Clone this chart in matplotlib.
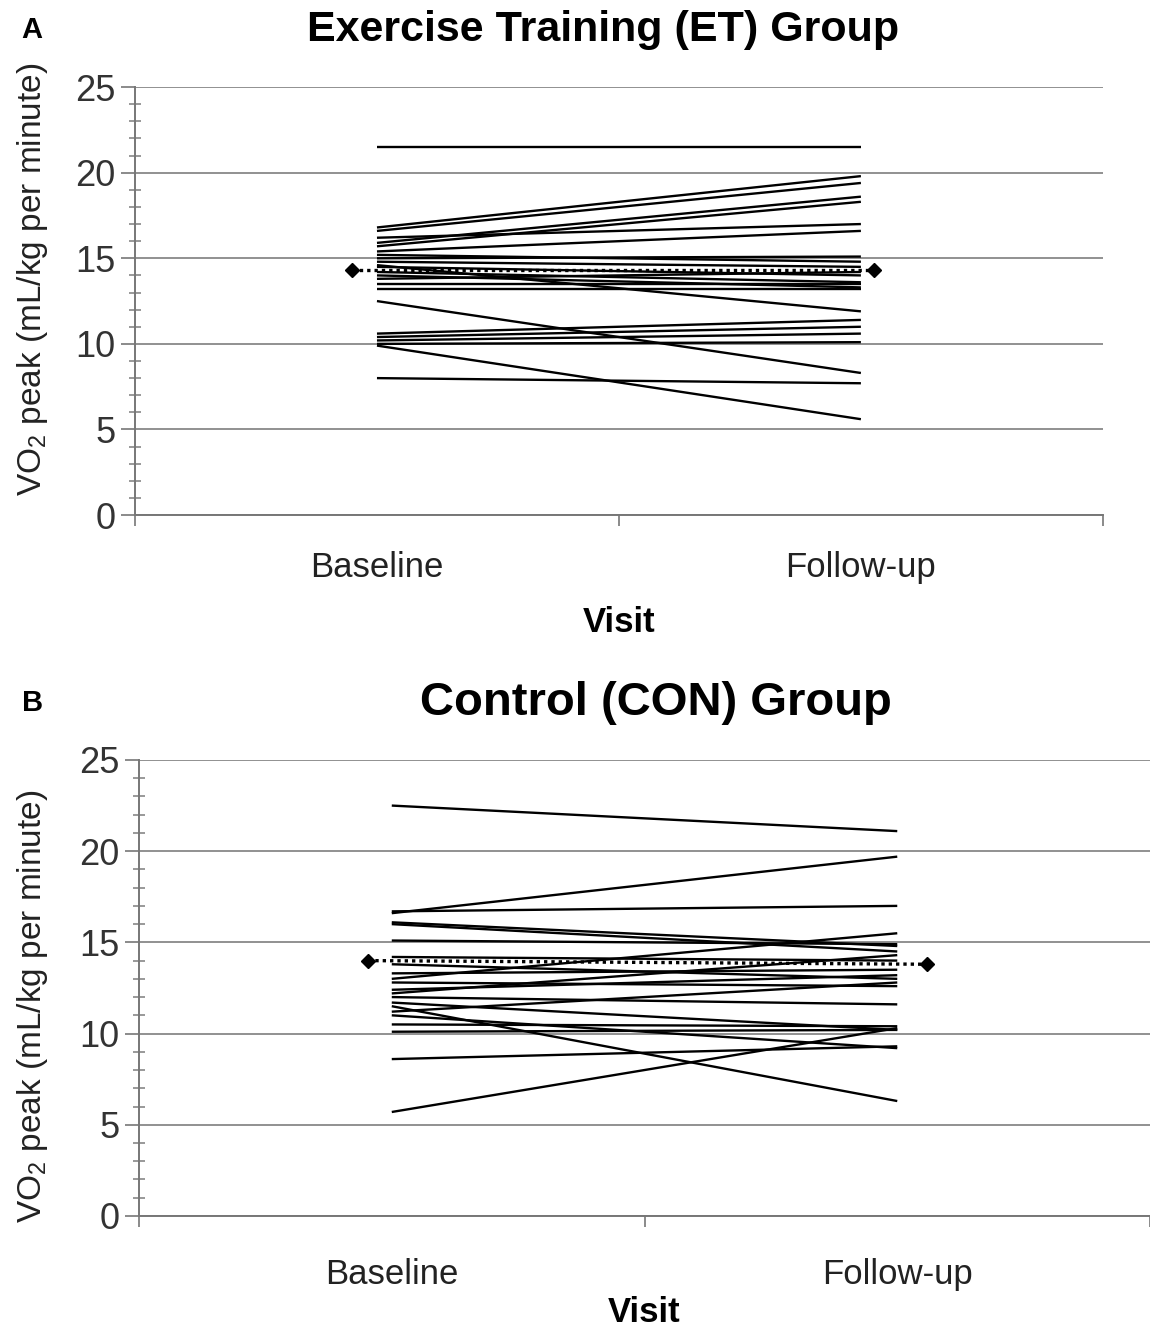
import numpy as np
import matplotlib.pyplot as plt
from matplotlib.ticker import MultipleLocator

plt.rcParams['font.family'] = ['Liberation Sans', 'DejaVu Sans']
plt.rcParams['mathtext.default'] = 'regular'

visits = ['Baseline', 'Follow-up']

# ET group: one pair per subject (baseline, follow-up)
et_base = [21.5, 16.8, 16.6, 15.9, 15.7, 16.2, 15.4, 15.0, 14.8, 14.5, 14.2, 14.0,
           13.8, 13.5, 13.2, 14.6, 15.2, 12.5, 10.6, 10.4, 10.2, 10.0, 9.9, 8.0]
et_follow = [21.5, 19.8, 19.4, 18.6, 18.3, 17.0, 16.6, 15.1, 14.5, 14.0, 13.6, 13.3,
             14.2, 13.5, 13.2, 11.9, 14.8, 8.3, 11.4, 11.0, 10.6, 10.1, 5.6, 7.7]
et_mean = [14.3, 14.3]

# CON group
con_base = [22.5, 16.6, 16.7, 16.1, 16.0, 15.1, 13.0, 13.3, 12.8, 12.4, 12.2, 12.0,
            11.7, 11.5, 11.2, 10.5, 10.1, 8.6, 5.7, 14.2, 13.8, 11.0]
con_follow = [21.1, 19.7, 17.0, 14.8, 14.5, 14.9, 15.5, 13.5, 12.6, 13.2, 14.3, 11.6,
              10.2, 6.3, 12.8, 10.4, 10.2, 9.3, 10.3, 14.0, 13.0, 9.2]
con_mean = [14.0, 13.8]


def panel(ax, base, follow, mean, mean_x, title, letter, title_x, title_size,
          tick_pad, xlab_pad, ylab_y):
    x = [1, 2]
    for b, f in zip(base, follow):
        ax.plot(x, [b, f], color='black', lw=1.7, solid_capstyle='butt', zorder=3)
    ax.plot(mean_x, mean, color='black', lw=2.4, ls=(0, (1, 1.2)), marker='D',
            markersize=7, zorder=4)
    ax.set_xlim(0.5, 2.5)
    ax.set_ylim(0, 25)
    ax.set_xticks([0.5, 1.5, 2.5])
    ax.set_xticklabels([])
    ax.set_xticks([1, 2], minor=True)
    ax.set_xticklabels(visits, minor=True, fontsize=25, color='#222')
    ax.tick_params(axis='x', which='minor', length=0, pad=tick_pad)
    ax.tick_params(axis='x', which='major', length=8, color='#777', width=1.2)
    ax.yaxis.set_major_locator(MultipleLocator(5))
    ax.yaxis.set_minor_locator(MultipleLocator(1))
    ax.tick_params(axis='y', which='major', labelsize=26, labelcolor='#333',
                   length=10, color='#777', width=1.2, pad=4)
    ax.tick_params(axis='y', which='minor', direction='inout', length=8,
                   color='#888', width=1.2)
    ax.grid(axis='y', which='major', color='#888', lw=1.3, zorder=1)
    for s in ['top', 'right']:
        ax.spines[s].set_visible(False)
    for s in ['left', 'bottom']:
        ax.spines[s].set_color('#777')
        ax.spines[s].set_linewidth(1.4)
    ax.set_xlabel('Visit', fontsize=25, fontweight='bold', labelpad=xlab_pad)
    ax.set_ylabel('VO$_2$ peak (mL/kg per minute)', fontsize=24, color='#222')
    ax.yaxis.set_label_coords(-0.088, ylab_y)
    fig.text(title_x, ax.get_position().y1 + 0.043, title, fontsize=title_size,
             fontweight='bold', ha='center', va='center')
    fig.text(0.028, ax.get_position().y1 + 0.043, letter, fontsize=21,
             fontweight='bold', ha='center', va='center')


fig = plt.figure(figsize=(11.5, 13.34), dpi=100)
ax1 = fig.add_axes([0.1174, 0.6139, 0.8416, 0.3208])
ax2 = fig.add_axes([0.1209, 0.0885, 0.8791, 0.3418])

panel(ax1, et_base, et_follow, et_mean, [0.948, 2.027],
      'Exercise Training (ET) Group', 'A', 0.524, 31, 26, 16, 0.55)
panel(ax2, con_base, con_follow, con_mean, [0.953, 2.059],
      'Control (CON) Group', 'B', 0.57, 34, 30, 4, 0.46)

fig.savefig('out.png', dpi=100)
